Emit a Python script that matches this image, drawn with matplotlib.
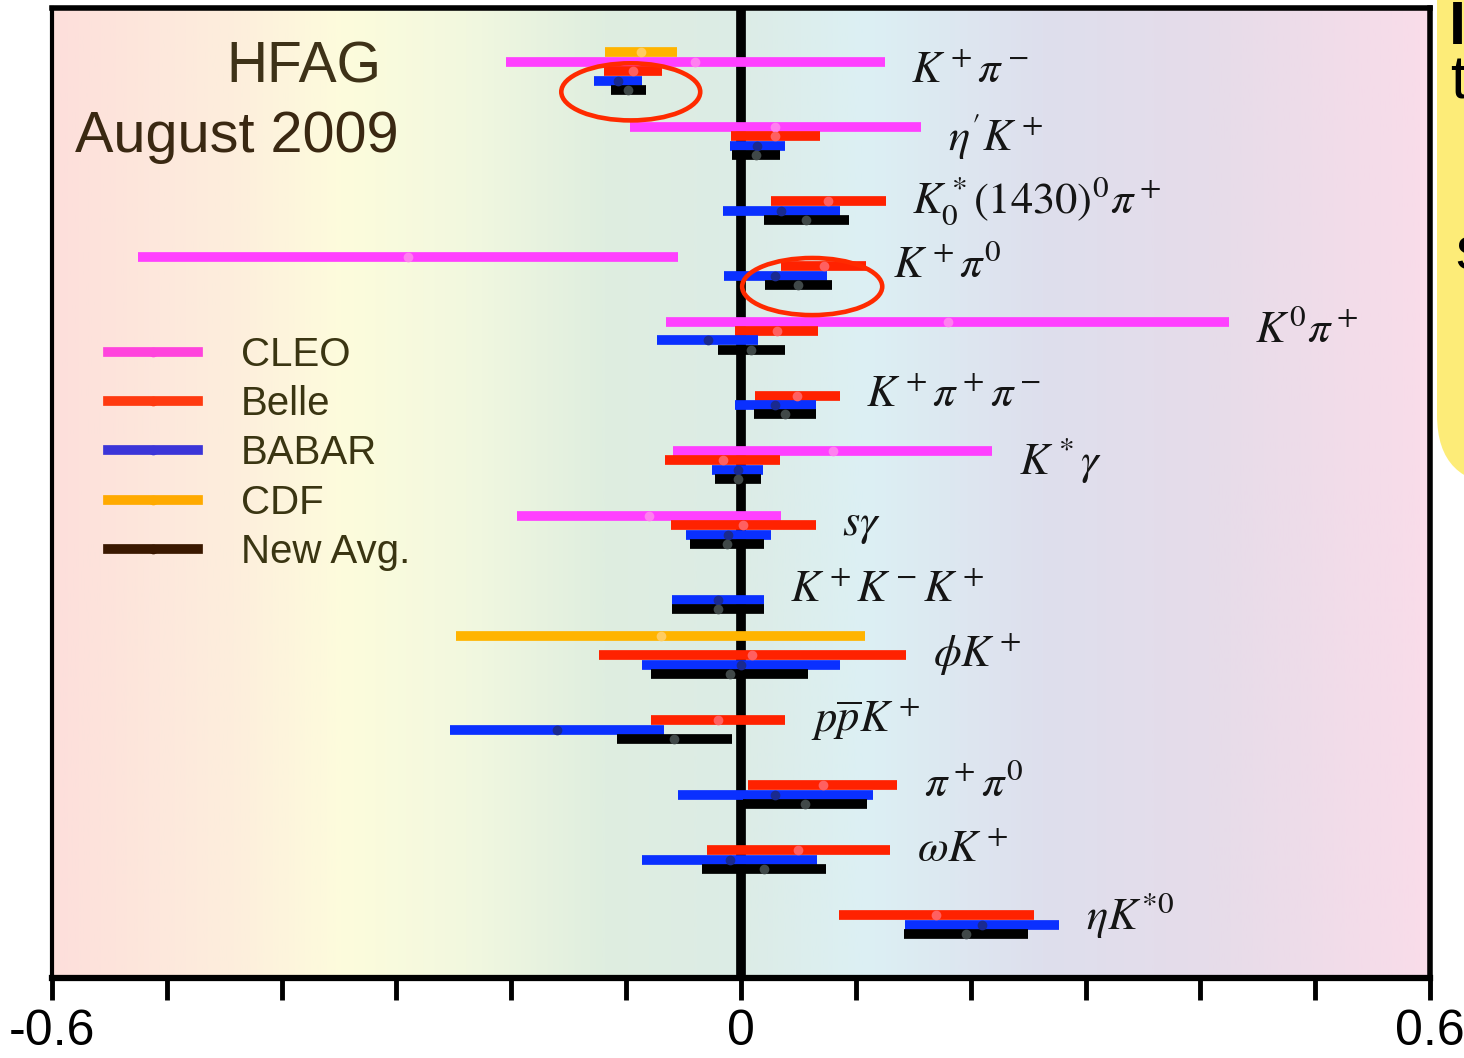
import numpy as np
import matplotlib
matplotlib.use("Agg")
import matplotlib.pyplot as plt
from matplotlib.colors import LinearSegmentedColormap
from matplotlib.patches import Ellipse, FancyBboxPatch
from matplotlib.lines import Line2D
from matplotlib.transforms import IdentityTransform

plt.rcParams['mathtext.fontset'] = 'stix'
plt.rcParams['font.family'] = ['Liberation Sans', 'DejaVu Sans']

nan = np.nan

# Decay modes, top to bottom
modes = [r'$K^+\pi^-$', r"$\eta' K^+$", r'$K_0^*(1430)^0\pi^+$', r'$K^+\pi^0$',
         r'$K^0\pi^+$', r'$K^+\pi^+\pi^-$', r'$K^*\gamma$', r'$s\gamma$',
         r'$K^+K^-K^+$', r'$\phi K^+$', r'$p\overline{p}K^+$', r'$\pi^+\pi^0$',
         r'$\omega K^+$', r'$\eta K^{*0}$']

# A_CP values and (symmetric) errors
cdf_val = [-0.087, nan, nan, nan, nan, nan, nan, nan, nan, -0.07, nan, nan, nan, nan]
cdf_err = [0.031, nan, nan, nan, nan, nan, nan, nan, nan, 0.178, nan, nan, nan, nan]

cleo_val = [-0.04, 0.03, nan, -0.29, 0.18, nan, 0.08, -0.08, nan, nan, nan, nan, nan, nan]
cleo_err = [0.165, 0.127, nan, 0.235, 0.245, nan, 0.139, 0.115, nan, nan, nan, nan, nan, nan]

belle_val = [-0.094, 0.03, 0.076, 0.072, 0.031, 0.049, -0.016, 0.002, nan, 0.01, -0.02, 0.071, 0.05, 0.17]
belle_err = [0.025, 0.039, 0.050, 0.037, 0.036, 0.037, 0.050, 0.063, nan, 0.134, 0.058, 0.065, 0.080, 0.085]

babar_val = [-0.107, 0.014, 0.035, 0.030, -0.029, 0.030, -0.003, -0.011, -0.02, 0.0, -0.16, 0.03, -0.01, 0.21]
babar_err = [0.021, 0.024, 0.051, 0.045, 0.044, 0.035, 0.022, 0.037, 0.040, 0.086, 0.093, 0.085, 0.076, 0.067]

avg_val = [-0.098, 0.013, 0.057, 0.050, 0.009, 0.038, -0.003, -0.012, -0.02, -0.01, -0.058, 0.056, 0.02, 0.196]
avg_err = [0.015, 0.021, 0.037, 0.029, 0.029, 0.027, 0.020, 0.032, 0.040, 0.068, 0.050, 0.054, 0.054, 0.054]

exp_names = ['CLEO', 'Belle', 'BABAR', 'CDF', 'New Avg.']

# Background gradient
bg_cmap = LinearSegmentedColormap.from_list('hfag', [
    (0.00, '#fddfdb'), (0.13, '#fdeedd'), (0.21, '#fdfcdc'), (0.30, '#f2f8df'),
    (0.40, '#dfeee0'), (0.50, '#dcece6'), (0.59, '#dcf0f4'), (0.72, '#dedfed'),
    (0.84, '#e6dcea'), (1.00, '#f9dce9')])

fig = plt.figure(figsize=(14.64, 10.58), dpi=100)
ax = fig.add_axes([52 / 1464, 80 / 1058, 1378 / 1464, 970 / 1058])
ax.set_facecolor('none')

ytop, ybot = -0.832, 14.114
grad = np.linspace(0, 1, 512).reshape(1, -1)
ax.imshow(grad, cmap=bg_cmap, extent=(-0.6, 0.6, ybot, ytop), aspect='auto', zorder=0)

ax.axvline(0, color='black', lw=7, zorder=1)

rows = np.arange(len(modes))
series = [
    (cdf_val, cdf_err, -0.15, '#ffb400', '#ffcc60'),
    (cleo_val, cleo_err, 0.0, '#ff40ff', '#ff80f0'),
    (belle_val, belle_err, 0.14, '#ff2200', '#ff6060'),
    (babar_val, babar_err, 0.29, '#0a30ff', '#1a2a90'),
    (avg_val, avg_err, 0.43, '#000000', '#404848'),
]
for val, err, off, col, mcol in series:
    val = np.array(val)
    err = np.array(err)
    ok = ~np.isnan(val)
    ax.errorbar(val[ok], rows[ok] + off, xerr=err[ok], fmt='o', color=col,
                ms=7, mfc=mcol, mec='none', elinewidth=7, capsize=0, zorder=3)

# Mode labels to the right of the widest bar in each row
uppers = []
for val, err, _, _, _ in series:
    uppers.append(np.array(val) + np.array(err))
uppers = np.nanmax(np.vstack(uppers), axis=0)
for i, m in enumerate(modes):
    ax.text(uppers[i] + 0.023, i + 0.14, m, fontsize=32, color='#151515',
            va='center', ha='left', zorder=4)

# Highlight circles
ax.add_patch(Ellipse((-0.096, 0.46), 0.121, 0.88, fill=False, ec='#ff2a00', lw=3.3, zorder=5))
ax.add_patch(Ellipse((0.062, 3.46), 0.122, 0.88, fill=False, ec='#ff2a00', lw=3.3, zorder=5))

# Title
ax.text(0.183, 0.9237, 'HFAG', transform=ax.transAxes, fontsize=41, color='#3e3218',
        ha='center', va='baseline')
ax.text(0.0167, 0.8515, 'August 2009', transform=ax.transAxes, fontsize=41.5, color='#3a2812',
        ha='left', va='baseline')

# Legend
leg_colors = ['#ff44dd', '#ff3a10', '#3c35d8', '#ffaa00', '#3a1800']
handles = [Line2D([], [], color=c, lw=7, marker='o', ms=7, mec='none') for c in leg_colors]
ax.legend(handles, exp_names, loc='upper left', bbox_to_anchor=(0.0405, 0.662),
          frameon=False, fontsize=29, handlelength=2.25, handletextpad=1.05,
          labelspacing=0.28, borderaxespad=0, borderpad=0, labelcolor='#3a3512')

ax.set_xlim(-0.6, 0.6)
ax.set_ylim(ybot, ytop)
ax.set_yticks([])
xt = np.round(np.arange(-0.6, 0.61, 0.1), 1)
ax.set_xticks(xt)
ax.set_xticklabels(['-0.6' if v == -0.6 else '0' if v == 0 else '0.6' if v == 0.6 else '' for v in xt],
                   family=['Liberation Sans Narrow', 'Liberation Sans', 'DejaVu Sans'])
ax.tick_params(axis='x', direction='out', length=16, width=3.5, pad=6, labelsize=36)
for side, w in [('left', 3), ('top', 4), ('right', 4), ('bottom', 4.5)]:
    ax.spines[side].set_linewidth(w)

# Neighbouring slide element on the right edge
blob = FancyBboxPatch((1437, 1058 - 485), 400, 700, boxstyle='round,pad=0,rounding_size=70',
                      transform=IdentityTransform(), fc='#fdec78', ec='none', zorder=-1)
fig.add_artist(blob)
fig.text(1449 / 1464, 1.0, 'I', fontsize=44, fontweight='bold', va='top', ha='left')
fig.text(1450 / 1464, 1 - 55 / 1058, 't', fontsize=44, va='top', ha='left')
fig.text(1455 / 1464, 1 - 225 / 1058, 's', fontsize=44, va='top', ha='left')

fig.savefig('out.png', dpi=100)
